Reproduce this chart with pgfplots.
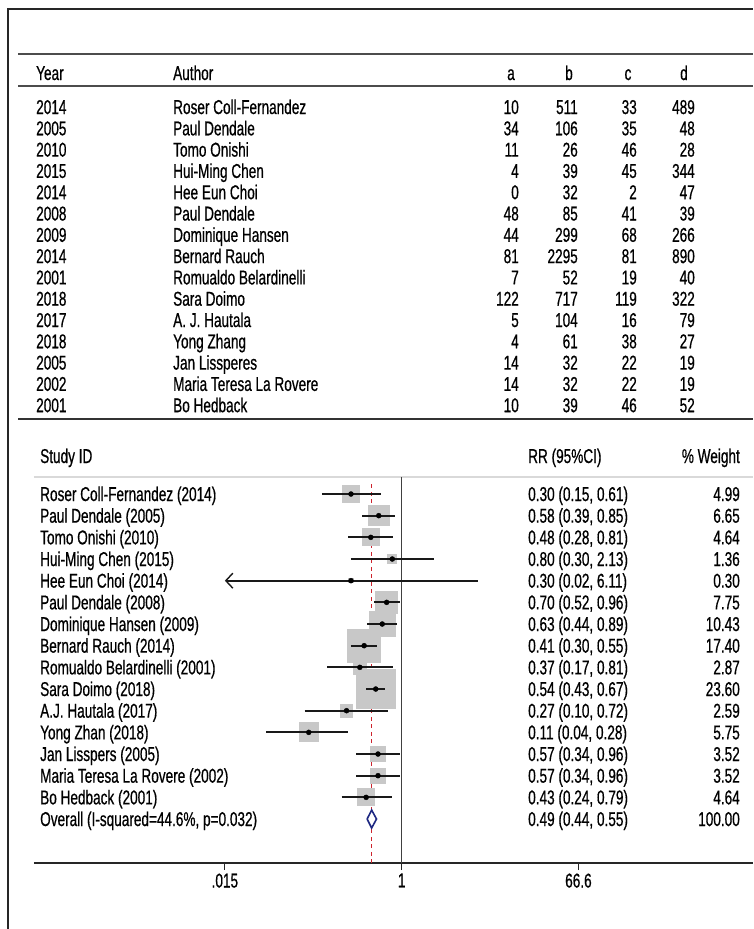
\documentclass[border=0pt]{standalone}
\usepackage{pgfplots}
\pgfplotsset{compat=1.18}
\usepackage{pgfplotstable}
\usetikzlibrary{arrows.meta}
\usepackage{fontspec}
\setmainfont{Liberation Sans}[FakeStretch=0.68, FakeBold=0.6]
\definecolor{boxgray}{RGB}{200,200,200}
\definecolor{refred}{RGB}{205,35,45}
\definecolor{diamblue}{RGB}{30,40,130}
\newcommand\ff{\fontsize{20pt}{22pt}\selectfont}

\pgfplotstableread{
row rr lo hi w
1 0.30 0.15 0.61 4.99
2 0.58 0.39 0.85 6.65
3 0.48 0.28 0.81 4.64
4 0.80 0.30 2.13 1.36
5 0.30 0.02 6.11 0.30
6 0.70 0.52 0.96 7.75
7 0.63 0.44 0.89 10.43
8 0.41 0.30 0.55 17.40
9 0.37 0.17 0.81 2.87
10 0.54 0.43 0.67 23.60
11 0.27 0.10 0.72 2.59
12 0.11 0.04 0.28 5.75
13 0.57 0.34 0.96 3.52
14 0.57 0.34 0.96 3.52
15 0.43 0.24 0.79 4.64
}\forest

\begin{document}
\begin{tikzpicture}[font=\ff]
\path[use as bounding box] (0pt,0pt) rectangle (753pt,-929pt);
\draw[line width=1.2pt, black!85] (8pt,-929pt) -- (8pt,-9pt) -- (753pt,-9pt);
% ---- table ----
\draw[line width=1.3pt, black!70] (18pt,-54pt) -- (753pt,-54pt);
\draw[line width=1.3pt, black!70] (18pt,-86pt) -- (753pt,-86pt);
\draw[line width=1.6pt, black!80] (18pt,-419pt) -- (753pt,-419pt);
\node[anchor=base west, inner sep=0pt] at (36pt,-80pt) {Year};
\node[anchor=base west, inner sep=0pt] at (173pt,-80pt) {Author};
\node[anchor=base, inner sep=0pt] at (511pt,-80pt) {a};
\node[anchor=base, inner sep=0pt] at (569pt,-80pt) {b};
\node[anchor=base, inner sep=0pt] at (628pt,-80pt) {c};
\node[anchor=base, inner sep=0pt] at (684pt,-80pt) {d};
\foreach \yr/\au/\a/\b/\c/\d [count=\i from 0] in {
 2014/Roser Coll-Fernandez/10/511/33/489,
 2005/Paul Dendale/34/106/35/48,
 2010/Tomo Onishi/11/26/46/28,
 2015/Hui-Ming Chen/4/39/45/344,
 2014/Hee Eun Choi/0/32/2/47,
 2008/Paul Dendale/48/85/41/39,
 2009/Dominique Hansen/44/299/68/266,
 2014/Bernard Rauch/81/2295/81/890,
 2001/Romualdo Belardinelli/7/52/19/40,
 2018/Sara Doimo/122/717/119/322,
 2017/A. J. Hautala/5/104/16/79,
 2018/Yong Zhang/4/61/38/27,
 2005/Jan Lissperes/14/32/22/19,
 2002/Maria Teresa La Rovere/14/32/22/19,
 2001/Bo Hedback/10/39/46/52}{
  \pgfmathsetmacro\yy{-(107+\i*21.3+7)}
  \node[anchor=base west, inner sep=0pt] at (36pt,\yy pt) {\yr};
  \node[anchor=base west, inner sep=0pt] at (173pt,\yy pt) {\au};
  \node[anchor=base east, inner sep=0pt] at (519pt,\yy pt) {\a};
  \node[anchor=base east, inner sep=0pt] at (578pt,\yy pt) {\b};
  \node[anchor=base east, inner sep=0pt] at (637pt,\yy pt) {\c};
  \node[anchor=base east, inner sep=0pt] at (695pt,\yy pt) {\d};
}
% ---- forest text ----
\node[anchor=base west, inner sep=0pt] at (40pt,-463pt) {Study ID};
\node[anchor=base west, inner sep=0pt] at (528pt,-463pt) {RR (95\%CI)};
\node[anchor=base east, inner sep=0pt] at (740pt,-463pt) {\% Weight};
\foreach \nm/\rr/\wt [count=\i from 0] in {
 {Roser Coll-Fernandez (2014)}/{0.30 (0.15, 0.61)}/4.99,
 {Paul Dendale (2005)}/{0.58 (0.39, 0.85)}/6.65,
 {Tomo Onishi (2010)}/{0.48 (0.28, 0.81)}/4.64,
 {Hui-Ming Chen (2015)}/{0.80 (0.30, 2.13)}/1.36,
 {Hee Eun Choi (2014)}/{0.30 (0.02, 6.11)}/0.30,
 {Paul Dendale (2008)}/{0.70 (0.52, 0.96)}/7.75,
 {Dominique Hansen (2009)}/{0.63 (0.44, 0.89)}/10.43,
 {Bernard Rauch (2014)}/{0.41 (0.30, 0.55)}/17.40,
 {Romualdo Belardinelli (2001)}/{0.37 (0.17, 0.81)}/2.87,
 {Sara Doimo (2018)}/{0.54 (0.43, 0.67)}/23.60,
 {A.J. Hautala (2017)}/{0.27 (0.10, 0.72)}/2.59,
 {Yong Zhan (2018)}/{0.11 (0.04, 0.28)}/5.75,
 {Jan Lisspers (2005)}/{0.57 (0.34, 0.96)}/3.52,
 {Maria Teresa La Rovere (2002)}/{0.57 (0.34, 0.96)}/3.52,
 {Bo Hedback (2001)}/{0.43 (0.24, 0.79)}/4.64,
 {Overall (I-squared=44.6\%, p=0.032)}/{0.49 (0.44, 0.55)}/100.00}{
  \pgfmathsetmacro\yy{-(494+\i*21.667+7)}
  \node[anchor=base west, inner sep=0pt] at (40pt,\yy pt) {\nm};
  \node[anchor=base west, inner sep=0pt] at (528pt,\yy pt) {\rr};
  \node[anchor=base east, inner sep=0pt] at (740pt,\yy pt) {\wt};
}
% ---- forest plot ----
\begin{axis}[
  at={(34pt,-863pt)}, anchor=south west,
  scale only axis, width=719pt, height=386pt,
  xmode=log, xmin=1.612e-4, xmax=4205,
  ymin=-18.03, ymax=-0.215,
  axis x line*=bottom, axis y line=none,
  x axis line style={line width=1.3pt, black!85},
  xtick={0.015,1,66.6}, xticklabels={.015,1,66.6},
  minor xtick={},
  tick align=outside, major tick length=7pt,
  tick style={line width=1.2pt, black!85},
  ticklabel style={font=\ff},
  /pgf/number format/assume math mode=true,
  clip=false, clip marker paths=true,
]
\draw[black!15, line width=1.2pt] (axis description cs:0,1) -- (axis description cs:1,1);
\addplot[refred, line width=1pt, dash pattern=on 4pt off 3.5pt] coordinates {(0.49,-0.55) (0.49,-18.03)};
\addplot[black!75, line width=1.3pt] coordinates {(1,-0.215) (1,-18.03)};
\addplot[scatter, only marks, mark=square*,
  scatter/use mapped color={draw=boxgray, fill=boxgray},
  visualization depends on={4.0*sqrt(\thisrow{w}) \as \msz},
  scatter/@pre marker code/.append style={/tikz/mark size=\msz},
  mark options={line width=0pt}]
  table[x=rr, y expr=-\thisrow{row}] {\forest};
\addplot[black!90, line width=1.8pt] coordinates {(0.15,-1) (0.61,-1)};
\addplot[black!90, line width=1.8pt] coordinates {(0.39,-2) (0.85,-2)};
\addplot[black!90, line width=1.8pt] coordinates {(0.28,-3) (0.81,-3)};
\addplot[black!90, line width=1.8pt] coordinates {(0.30,-4) (2.13,-4)};
\addplot[black!90, line width=1.8pt, {Straight Barb[length=7pt,width=15pt,line width=1.4pt]}-] coordinates {(0.015,-5) (6.11,-5)};
\addplot[black!90, line width=1.8pt] coordinates {(0.52,-6) (0.96,-6)};
\addplot[black!90, line width=1.8pt] coordinates {(0.44,-7) (0.89,-7)};
\addplot[black!90, line width=1.8pt] coordinates {(0.30,-8) (0.55,-8)};
\addplot[black!90, line width=1.8pt] coordinates {(0.17,-9) (0.81,-9)};
\addplot[black!90, line width=1.8pt] coordinates {(0.43,-10) (0.67,-10)};
\addplot[black!90, line width=1.8pt] coordinates {(0.10,-11) (0.72,-11)};
\addplot[black!90, line width=1.8pt] coordinates {(0.04,-12) (0.28,-12)};
\addplot[black!90, line width=1.8pt] coordinates {(0.34,-13) (0.96,-13)};
\addplot[black!90, line width=1.8pt] coordinates {(0.34,-14) (0.96,-14)};
\addplot[black!90, line width=1.8pt] coordinates {(0.24,-15) (0.79,-15)};
\addplot[only marks, mark=*, mark size=2.5pt, black] table[x=rr, y expr=-\thisrow{row}] {\forest};
\addplot[diamblue, line width=1.6pt, fill=white, line join=miter] coordinates {(0.44,-16) (0.49,-15.585) (0.55,-16) (0.49,-16.415) (0.44,-16)};
\end{axis}
\end{tikzpicture}
\end{document}
